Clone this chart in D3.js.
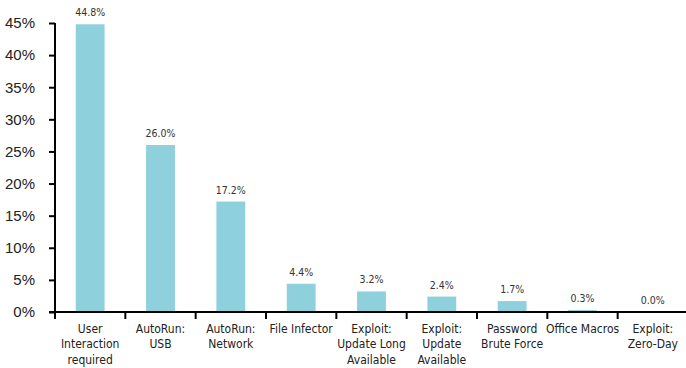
<!DOCTYPE html>
<html>
<head>
<meta charset="utf-8">
<script src="https://cdn.jsdelivr.net/npm/d3@7/dist/d3.min.js"></script>
<style>
  html, body { margin: 0; padding: 0; background: #fff; }
  svg { display: block; font-family: "DejaVu Sans Condensed", "Liberation Sans Narrow", Roboto, sans-serif; }
</style>
</head>
<body>
<svg id="chart" width="686" height="368"></svg>
<script>
const categories = [
  ["User", "Interaction", "required"],
  ["AutoRun:", "USB"],
  ["AutoRun:", "Network"],
  ["File Infector"],
  ["Exploit:", "Update Long", "Available"],
  ["Exploit:", "Update", "Available"],
  ["Password", "Brute Force"],
  ["Office Macros"],
  ["Exploit:", "Zero-Day"]
];
const values = [44.8, 26.0, 17.2, 4.4, 3.2, 2.4, 1.7, 0.3, 0.0];
const yTicks = [0, 5, 10, 15, 20, 25, 30, 35, 40, 45];

const svg = d3.select("#chart");
const plotLeft = 55, plotRight = 688, plotTop = 23, plotBottom = 312;

const x = d3.scaleBand()
  .domain(d3.range(categories.length))
  .range([plotLeft, plotRight])
  .paddingInner(0.59)
  .paddingOuter(0.295);

const y = d3.scaleLinear().domain([0, 45]).range([plotBottom, plotTop]);

// bars
svg.append("g").selectAll("rect")
  .data(values)
  .join("rect")
  .attr("x", (d, i) => x(i))
  .attr("y", d => y(d))
  .attr("width", x.bandwidth())
  .attr("height", d => plotBottom - y(d))
  .attr("fill", "#8ed0dc");

// value labels
svg.append("g").selectAll("text")
  .data(values)
  .join("text")
  .attr("x", (d, i) => x(i) + x.bandwidth() / 2)
  .attr("y", d => y(d) - 8)
  .attr("text-anchor", "middle")
  .attr("font-size", 10.5)
  .attr("fill", "#333")
  .text(d => d.toFixed(1) + "%");

// y axis
const yAxis = svg.append("g")
  .attr("transform", `translate(${plotLeft},0)`)
  .call(d3.axisLeft(y).tickValues(yTicks).tickFormat(d => d + "%").tickSize(6).tickPadding(14));
yAxis.select(".domain").attr("stroke", "#000").attr("stroke-width", 2).attr("d", `M0,${plotTop}V${plotBottom}`);
yAxis.selectAll(".tick line").attr("stroke", "#000").attr("stroke-width", 2);
yAxis.selectAll(".tick text").attr("font-size", 15).attr("fill", "#222")
  .attr("font-family", "inherit");

// x axis with ticks at band boundaries
const boundaries = d3.range(categories.length).map(i => x(i) - x.step() * x.paddingInner() / 2);
svg.append("line")
  .attr("x1", plotLeft - 6).attr("x2", plotRight)
  .attr("y1", plotBottom).attr("y2", plotBottom)
  .attr("stroke", "#000").attr("stroke-width", 2);
svg.append("g").selectAll("line")
  .data(boundaries)
  .join("line")
  .attr("x1", d => d).attr("x2", d => d)
  .attr("y1", plotBottom).attr("y2", plotBottom + 7)
  .attr("stroke", "#000").attr("stroke-width", 2);

// category labels
const catG = svg.append("g").selectAll("text")
  .data(categories)
  .join("text")
  .attr("x", (d, i) => x(i) + x.bandwidth() / 2)
  .attr("y", 333)
  .attr("text-anchor", "middle")
  .attr("font-size", 12)
  .attr("fill", "#222");
catG.selectAll("tspan")
  .data(d => d)
  .join("tspan")
  .attr("x", function() { return d3.select(this.parentNode).attr("x"); })
  .attr("dy", (d, j) => j === 0 ? 0 : 15.3)
  .text(d => d);
</script>
</body>
</html>
